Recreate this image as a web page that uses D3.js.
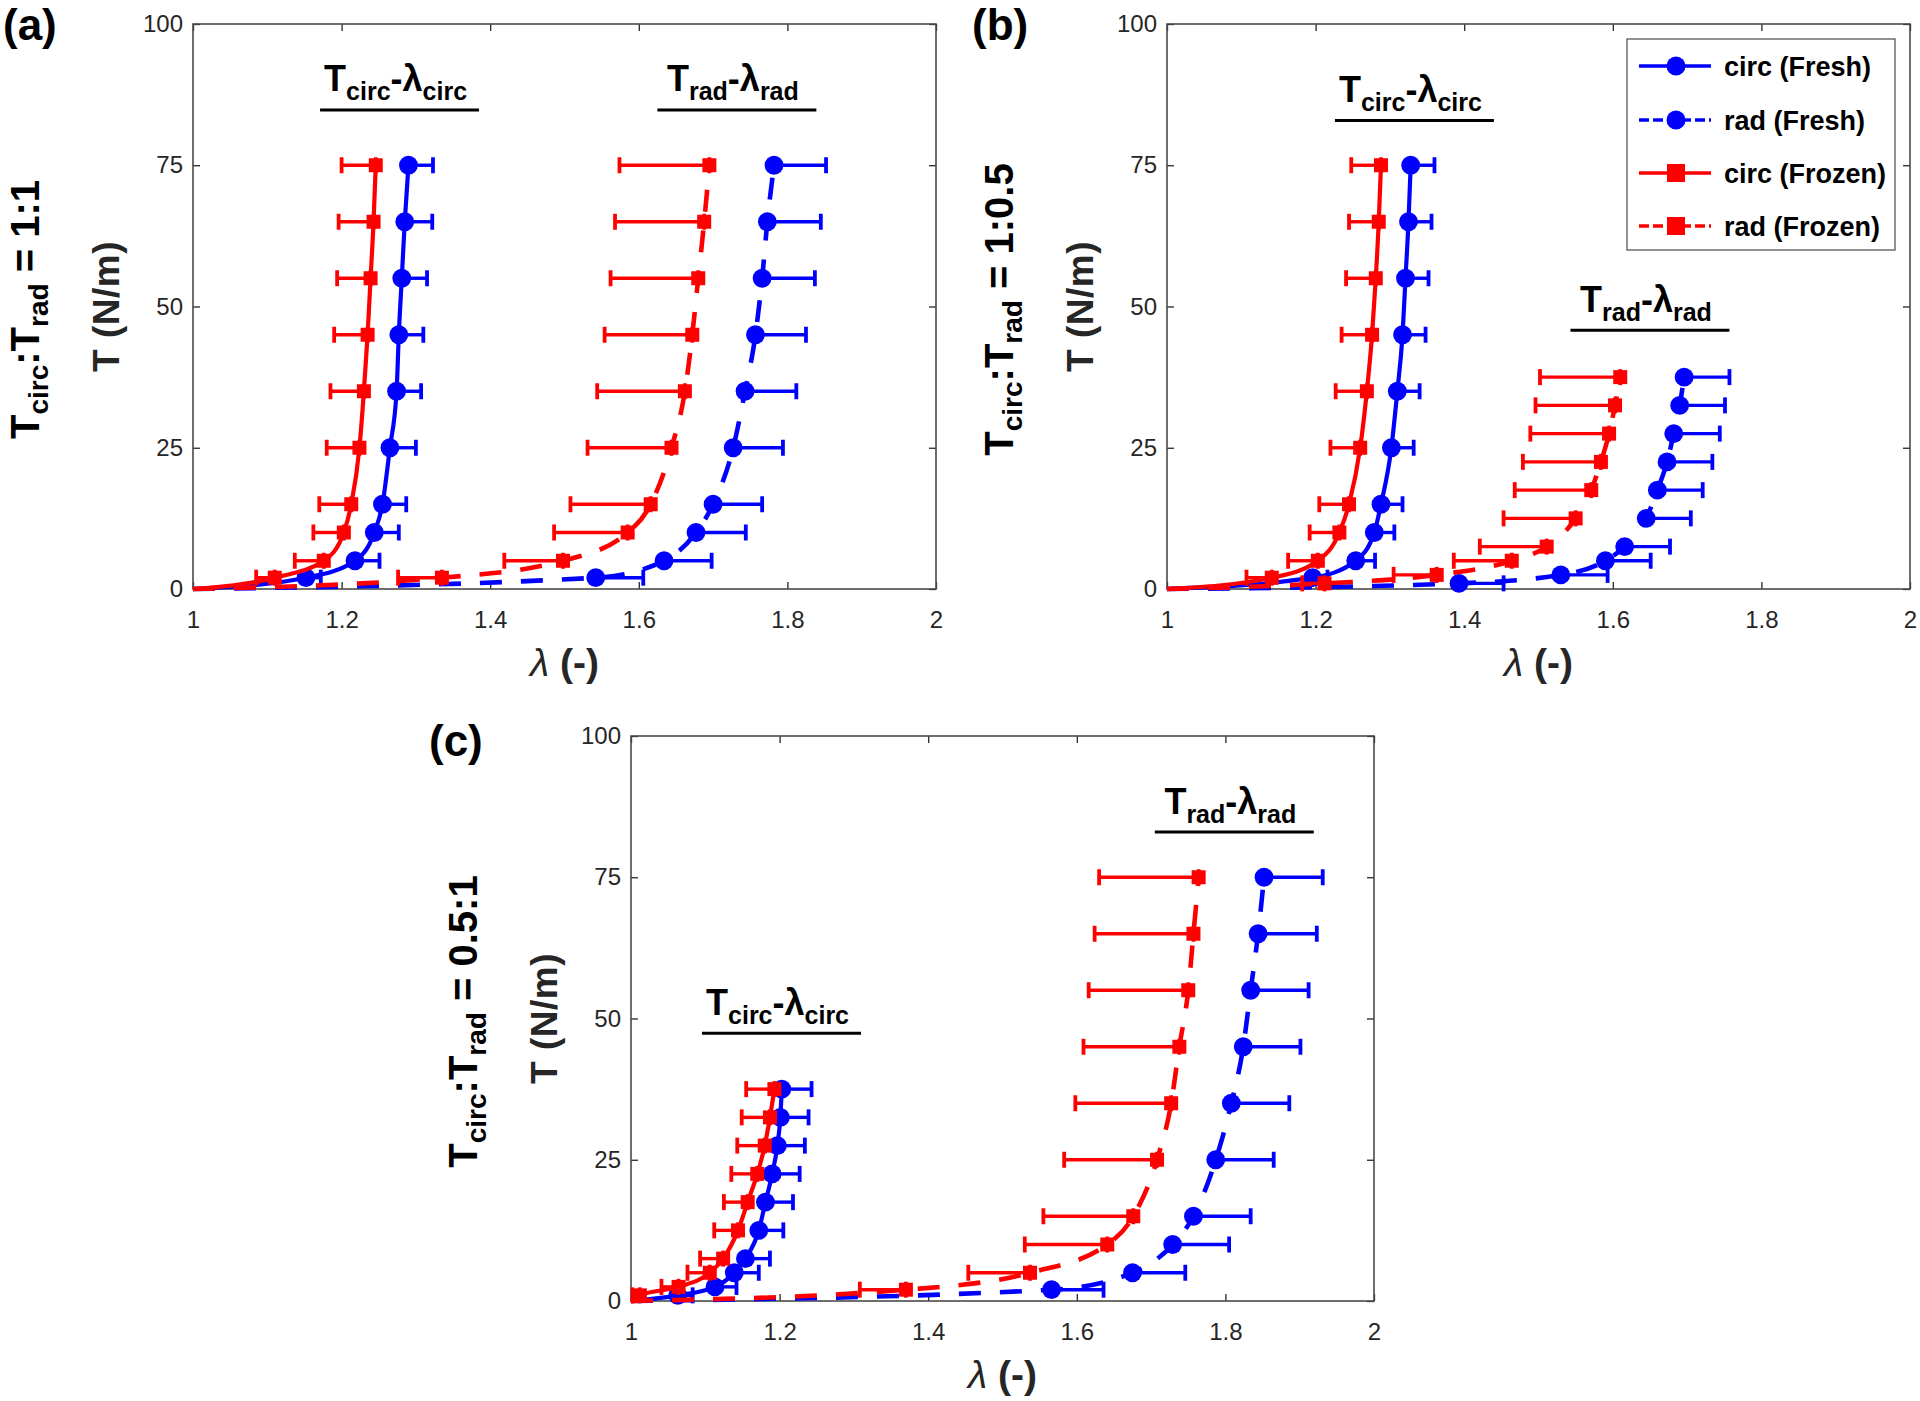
<!DOCTYPE html>
<html><head><meta charset="utf-8">
<script src="https://cdn.jsdelivr.net/npm/d3@7"></script>
<style>
body{margin:0;background:#fff}
svg{display:block}
text{font-family:"Liberation Sans",Arial,Helvetica,sans-serif}
</style>
</head><body>
<svg id="chart" width="1920" height="1401"></svg>
<script>
// ---------- data ----------
const xTicks = [1, 1.2, 1.4, 1.6, 1.8, 2];
const yTicks = [0, 25, 50, 75, 100];
const legendLabels = ["circ (Fresh)", "rad (Fresh)", "circ (Frozen)", "rad (Frozen)"];
const panelLabels = ["(a)", "(b)", "(c)"];
const ratioLabels = ["1:1", "1:0.5", "0.5:1"];

// panel (a)  Tcirc:Trad = 1:1
const aCircT = [2, 5, 10, 15, 25, 35, 45, 55, 65, 75];
const aCircFresh = [1.152, 1.218, 1.244, 1.255, 1.265, 1.274, 1.277, 1.281, 1.285, 1.290];
const aCircFreshErr = [0.020, 0.033, 0.033, 0.032, 0.035, 0.033, 0.033, 0.034, 0.037, 0.033];
const aCircFrozen = [1.110, 1.176, 1.203, 1.213, 1.224, 1.230, 1.235, 1.239, 1.243, 1.246];
const aCircFrozenErr = [0.025, 0.039, 0.041, 0.043, 0.044, 0.045, 0.045, 0.045, 0.047, 0.046];
const aRadT = [2, 5, 10, 15, 25, 35, 45, 55, 65, 75];
const aRadFresh = [1.542, 1.634, 1.677, 1.700, 1.727, 1.743, 1.757, 1.766, 1.773, 1.782];
const aRadFreshErr = [0.064, 0.064, 0.067, 0.066, 0.067, 0.069, 0.068, 0.071, 0.072, 0.070];
const aRadFrozen = [1.335, 1.498, 1.585, 1.616, 1.644, 1.662, 1.672, 1.680, 1.688, 1.695];
const aRadFrozenErr = [0.059, 0.079, 0.099, 0.108, 0.113, 0.118, 0.118, 0.118, 0.120, 0.121];

// panel (b)  Tcirc:Trad = 1:0.5
const bCircT = [2, 5, 10, 15, 25, 35, 45, 55, 65, 75];
const bCircFresh = [1.196, 1.254, 1.279, 1.288, 1.302, 1.310, 1.317, 1.321, 1.325, 1.328];
const bCircFreshErr = [0.020, 0.026, 0.027, 0.029, 0.030, 0.030, 0.031, 0.031, 0.031, 0.032];
const bCircFrozen = [1.141, 1.203, 1.232, 1.245, 1.260, 1.269, 1.276, 1.281, 1.285, 1.288];
const bCircFrozenErr = [0.034, 0.040, 0.040, 0.040, 0.040, 0.042, 0.041, 0.040, 0.040, 0.040];
const bRadT = [1, 2.5, 5, 7.5, 12.5, 17.5, 22.5, 27.5, 32.5, 37.5];
const bRadFresh = [1.393, 1.530, 1.590, 1.616, 1.645, 1.660, 1.673, 1.682, 1.690, 1.696];
const bRadFreshErr = [0.060, 0.063, 0.061, 0.061, 0.060, 0.061, 0.061, 0.062, 0.061, 0.061];
const bRadFrozen = [1.212, 1.363, 1.464, 1.511, 1.550, 1.571, 1.584, 1.595, 1.603, 1.610];
const bRadFrozenErr = [0.030, 0.058, 0.078, 0.090, 0.097, 0.103, 0.105, 0.106, 0.107, 0.108];

// panel (c)  Tcirc:Trad = 0.5:1
const cCircT = [1, 2.5, 5, 7.5, 12.5, 17.5, 22.5, 27.5, 32.5, 37.5];
const cCircFresh = [1.063, 1.113, 1.139, 1.154, 1.172, 1.181, 1.190, 1.197, 1.201, 1.203];
const cCircFreshErr = [0.020, 0.029, 0.033, 0.033, 0.033, 0.037, 0.037, 0.037, 0.038, 0.040];
const cCircFrozen = [1.012, 1.064, 1.106, 1.124, 1.144, 1.157, 1.170, 1.180, 1.187, 1.193];
const cCircFrozenErr = [0.010, 0.023, 0.030, 0.031, 0.032, 0.032, 0.035, 0.037, 0.038, 0.038];
const cRadT = [2, 5, 10, 15, 25, 35, 45, 55, 65, 75];
const cRadFresh = [1.566, 1.675, 1.729, 1.757, 1.787, 1.808, 1.824, 1.834, 1.844, 1.852];
const cRadFreshErr = [0.070, 0.071, 0.076, 0.077, 0.078, 0.078, 0.077, 0.078, 0.079, 0.079];
const cRadFrozen = [1.370, 1.537, 1.641, 1.676, 1.708, 1.727, 1.738, 1.750, 1.757, 1.764];
const cRadFrozenErr = [0.062, 0.083, 0.111, 0.121, 0.125, 0.129, 0.129, 0.134, 0.133, 0.134];

// ---------- layout ----------
const W = 743, H = 565;
const BLUE = "#0000ff", RED = "#ff0000", AX = "#262626";
const panels = [
  { left: 193, top: 24, labelX: 3, labelY: 40,
    circ: [aCircT, aCircFresh, aCircFreshErr, aCircFrozen, aCircFrozenErr],
    rad: [aRadT, aRadFresh, aRadFreshErr, aRadFrozen, aRadFrozenErr],
    ann: [{sub: "circ", lam: 1.278, T: 84.8}, {sub: "rad", lam: 1.732, T: 84.8}] },
  { left: 1167, top: 24, labelX: 972, labelY: 40,
    circ: [bCircT, bCircFresh, bCircFreshErr, bCircFrozen, bCircFrozenErr],
    rad: [bRadT, bRadFresh, bRadFreshErr, bRadFrozen, bRadFrozenErr],
    ann: [{sub: "circ", lam: 1.333, T: 82.9}, {sub: "rad", lam: 1.650, T: 45.8}], legend: true },
  { left: 631, top: 736, labelX: 429, labelY: 756,
    circ: [cCircT, cCircFresh, cCircFreshErr, cCircFrozen, cCircFrozenErr],
    rad: [cRadT, cRadFresh, cRadFreshErr, cRadFrozen, cRadFrozenErr],
    ann: [{sub: "circ", lam: 1.2026, T: 47.4}, {sub: "rad", lam: 1.812, T: 83.0}] }
];

const svg = d3.select("#chart");
svg.append("rect").attr("width", 1920).attr("height", 1401).attr("fill", "#fff");

const DASH = "22,19";

function drawSeries(g, x, y, T, L, E, color, dashed, square, dir) {
  const pts = [[1, 0]].concat(L.map((l, i) => [l, T[i]]));
  const line = d3.line().x(d => x(d[0])).y(d => y(d[1])).curve(d3.curveMonotoneX);
  g.append("path").attr("d", line(pts)).attr("fill", "none")
    .attr("stroke", color).attr("stroke-width", dashed ? 4.6 : 4.2)
    .attr("stroke-dasharray", dashed ? DASH : null);
  const eb = g.append("g").attr("stroke", color).attr("stroke-width", 3.4);
  L.forEach((l, i) => {
    const x1 = x(l), x2 = x(l + dir * E[i]), yy = y(T[i]);
    eb.append("line").attr("x1", x1).attr("x2", x2).attr("y1", yy).attr("y2", yy);
    [x1, x2].forEach(xx => eb.append("line").attr("x1", xx).attr("x2", xx)
      .attr("y1", yy - 8).attr("y2", yy + 8).attr("stroke-width", 3.8));
  });
  L.forEach((l, i) => {
    if (square) {
      g.append("rect").attr("x", x(l) - 7).attr("y", y(T[i]) - 7)
        .attr("width", 14).attr("height", 14).attr("fill", color);
    } else {
      g.append("circle").attr("cx", x(l)).attr("cy", y(T[i])).attr("r", 9.4).attr("fill", color);
    }
  });
}

panels.forEach((p, pi) => {
  const g = svg.append("g");
  const x = d3.scaleLinear().domain([1, 2]).range([p.left, p.left + W]);
  const y = d3.scaleLinear().domain([0, 100]).range([p.top + H, p.top]);

  // axes
  const styleAxis = sel => {
    sel.select(".domain").remove();
    sel.selectAll(".tick line").attr("stroke", AX).attr("stroke-width", 1.3);
    sel.selectAll(".tick text").attr("fill", AX).attr("font-size", 24)
      .attr("font-family", '"Liberation Sans", Arial, sans-serif');
  };
  g.append("g").attr("transform", `translate(0,${p.top + H})`)
    .call(d3.axisBottom(x).tickValues(xTicks).tickFormat(d => String(d)).tickSize(-7).tickSizeOuter(0).tickPadding(22))
    .call(styleAxis);
  g.append("g").attr("transform", `translate(0,${p.top})`)
    .call(d3.axisTop(x).tickValues(xTicks).tickFormat("").tickSize(-7).tickSizeOuter(0))
    .call(styleAxis);
  g.append("g").attr("transform", `translate(${p.left},0)`)
    .call(d3.axisLeft(y).tickValues(yTicks).tickSize(-7).tickSizeOuter(0).tickPadding(10))
    .call(styleAxis);
  g.append("g").attr("transform", `translate(${p.left + W},0)`)
    .call(d3.axisRight(y).tickValues(yTicks).tickFormat("").tickSize(-7).tickSizeOuter(0))
    .call(styleAxis);
  g.append("rect").attr("x", p.left).attr("y", p.top).attr("width", W).attr("height", H)
    .attr("fill", "none").attr("stroke", "#4a4a4a").attr("stroke-width", 1.6);

  // series
  const [cT, cFr, cFrE, cFz, cFzE] = p.circ;
  const [rT, rFr, rFrE, rFz, rFzE] = p.rad;
  drawSeries(g, x, y, cT, cFr, cFrE, BLUE, false, false, 1);
  drawSeries(g, x, y, rT, rFr, rFrE, BLUE, true, false, 1);
  drawSeries(g, x, y, cT, cFz, cFzE, RED, false, true, -1);
  drawSeries(g, x, y, rT, rFz, rFzE, RED, true, true, -1);

  // annotations  T_sub - λ_sub with underline
  p.ann.forEach(a => {
    const cx = x(a.lam), uy = y(a.T);
    const t = g.append("text").attr("x", cx - 4).attr("y", uy - 18.5)
      .attr("text-anchor", "middle").attr("font-weight", "bold").attr("font-size", 36).attr("fill", "#000");
    t.append("tspan").text("T");
    t.append("tspan").attr("font-size", 25).attr("dy", 9).text(a.sub);
    t.append("tspan").attr("dy", -9).text("-λ");
    t.append("tspan").attr("font-size", 25).attr("dy", 9).text(a.sub);
    g.append("line").attr("x1", cx - 79.5).attr("x2", cx + 79.5).attr("y1", uy).attr("y2", uy)
      .attr("stroke", "#000").attr("stroke-width", 3);
  });

  // axis labels
  const cy = p.top + H / 2;
  g.append("text").attr("transform", `translate(${p.left - 74},${cy}) rotate(-90)`)
    .attr("text-anchor", "middle").attr("font-weight", "bold").attr("font-size", 37)
    .attr("letter-spacing", 0.5).attr("fill", AX).text("T (N/m)");
  const xl = g.append("text").attr("x", p.left + W / 2).attr("y", p.top + H + 87)
    .attr("text-anchor", "middle").attr("font-weight", "bold").attr("font-size", 39).attr("fill", AX);
  xl.append("tspan").attr("font-style", "italic").attr("font-weight", "normal").text("λ");
  xl.append("tspan").text(" (-)");

  // row label Tcirc:Trad = ratio
  const rl = g.append("text").attr("transform", `translate(${p.left - 154},${cy + 3}) rotate(-90)`)
    .attr("text-anchor", "middle").attr("font-weight", "bold").attr("font-size", 40).attr("fill", "#000");
  rl.append("tspan").text("T");
  rl.append("tspan").attr("font-size", 28).attr("dy", 9).text("circ");
  rl.append("tspan").attr("dy", -9).text(":T");
  rl.append("tspan").attr("font-size", 28).attr("dy", 9).text("rad");
  rl.append("tspan").attr("dy", -9).text(" = " + ratioLabels[pi]);

  // panel label
  g.append("text").attr("x", p.labelX).attr("y", p.labelY).attr("font-weight", "bold")
    .attr("font-size", 44).attr("fill", "#000").text(panelLabels[pi]);

  // legend
  if (p.legend) {
    const lg = g.append("g");
    lg.append("rect").attr("x", 1627).attr("y", 39).attr("width", 268).attr("height", 211)
      .attr("fill", "#fff").attr("stroke", "#4a4a4a").attr("stroke-width", 1.2);
    const rows = [66, 120, 173, 226];
    const specs = [[BLUE, false, false], [BLUE, true, false], [RED, false, true], [RED, true, true]];
    legendLabels.forEach((lab, i) => {
      const [col, dashed, sq] = specs[i];
      const ry = rows[i];
      lg.append("line").attr("x1", 1639).attr("x2", 1711).attr("y1", ry).attr("y2", ry)
        .attr("stroke", col).attr("stroke-width", 3.5).attr("stroke-dasharray", dashed ? "10,4" : null);
      if (sq) lg.append("rect").attr("x", 1676 - 9).attr("y", ry - 9).attr("width", 18).attr("height", 18).attr("fill", col);
      else lg.append("circle").attr("cx", 1676).attr("cy", ry).attr("r", 9.5).attr("fill", col);
      lg.append("text").attr("x", 1724).attr("y", ry + 10).attr("font-weight", "bold")
        .attr("font-size", 27).attr("fill", "#000").text(lab);
    });
  }
});
</script>
</body></html>
